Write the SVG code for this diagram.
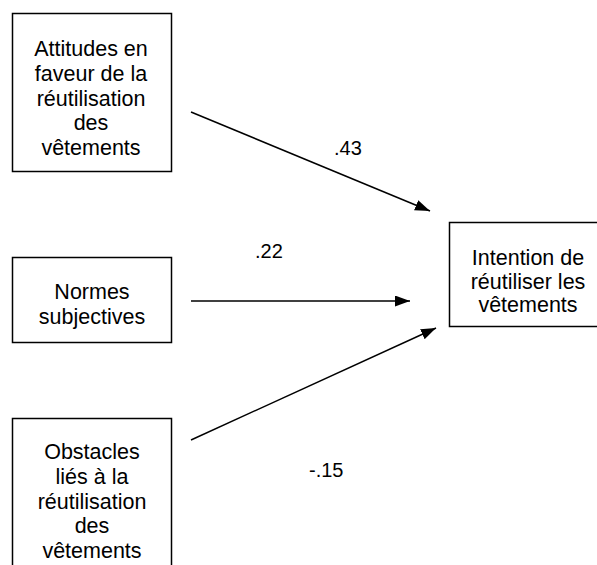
<svg xmlns="http://www.w3.org/2000/svg" width="597" height="565" viewBox="0 0 597 565">
<style>
.box{fill:#fff;stroke:#000;stroke-width:1.5}
.t{font-family:"Liberation Sans",Arial,sans-serif;font-size:21.5px;fill:#000;text-anchor:middle}
.lbl{font-family:"Liberation Sans",Arial,sans-serif;font-size:20px;fill:#000}
.c{stroke:#000;stroke-width:1.5;fill:none;marker-end:url(#ah)}
</style>
<defs>
<marker id="ah" viewBox="0 0 10 10" refX="10" refY="5" markerWidth="15" markerHeight="11" markerUnits="userSpaceOnUse" orient="auto" preserveAspectRatio="none">
<path d="M0,0 L10,5 L0,10 z" fill="#000"/>
</marker>
</defs>
<rect width="597" height="565" fill="#fff"/>
<g id="node-attitudes">
<rect class="box" x="12.5" y="13.5" width="159" height="158"/>
<text class="t" x="91" y="56">Attitudes en</text>
<text class="t" x="91" y="81">faveur de la</text>
<text class="t" x="91" y="106">réutilisation</text>
<text class="t" x="91" y="130">des</text>
<text class="t" x="91" y="155">vêtements</text>
</g>
<g id="node-normes">
<rect class="box" x="12.5" y="257.5" width="159" height="85"/>
<text class="t" x="92" y="299">Normes</text>
<text class="t" x="92" y="324">subjectives</text>
</g>
<g id="node-obstacles">
<rect class="box" x="12.5" y="418.5" width="159" height="160"/>
<text class="t" x="92" y="459">Obstacles</text>
<text class="t" x="92" y="484">liés à la</text>
<text class="t" x="92" y="509">réutilisation</text>
<text class="t" x="92" y="533">des</text>
<text class="t" x="92" y="558">vêtements</text>
</g>
<g id="node-intention">
<rect class="box" x="449.5" y="222.5" width="160" height="104"/>
<text class="t" x="528" y="265">Intention de</text>
<text class="t" x="528" y="289">réutiliser les</text>
<text class="t" x="528" y="312">vêtements</text>
</g>
<g id="connectors">
<line class="c" x1="191" y1="112" x2="430" y2="211"/>
<line class="c" x1="191" y1="301" x2="410" y2="301"/>
<line class="c" x1="191" y1="440" x2="436" y2="328"/>
<text class="lbl" x="334" y="155">.43</text>
<text class="lbl" x="255" y="258">.22</text>
<text class="lbl" x="309" y="477">-.15</text>
</g>
</svg>
